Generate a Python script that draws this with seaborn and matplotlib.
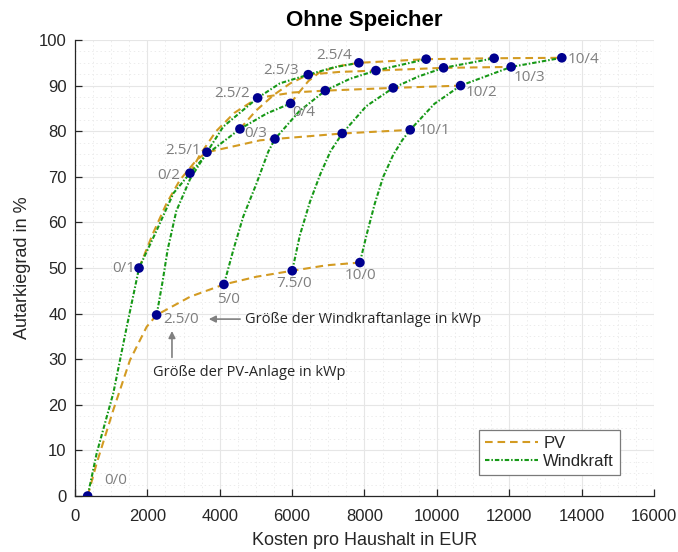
import pandas as pd
import seaborn as sns
import matplotlib.pyplot as plt
from matplotlib.lines import Line2D
from matplotlib.ticker import MultipleLocator

# Anlagengrößen in kWp
pv_sizes = ["0", "2.5", "5", "7.5", "10"]
wind_sizes = ["0", "1", "2", "3", "4"]

# Kosten pro Haushalt (EUR) und Autarkiegrad (%), Zeilen = PV, Spalten = Wind
kosten = [
    [350, 1770, 3177, 4558, 5958],
    [2256, 3646, 5047, 6446, 7845],
    [4116, 5525, 6915, 8315, 9705],
    [6003, 7384, 8793, 10185, 11583],
    [7873, 9263, 10655, 12052, 13453],
]
autarkie = [
    [0.0, 50.0, 70.8, 80.5, 86.1],
    [39.7, 75.4, 87.3, 92.4, 95.0],
    [46.4, 78.3, 88.9, 93.3, 95.8],
    [49.4, 79.5, 89.5, 93.9, 96.0],
    [51.2, 80.3, 90.0, 94.1, 96.1],
]

# Kurvenverläufe Windkraft (feste PV-Größe)
wind_x = [
    [350, 600, 1060, 1430, 1770, 2260, 2720, 3180, 3650, 4560, 5300, 5960],
    [2256, 2420, 2560, 2800, 3180, 3646, 4097, 5047, 5663, 6446, 7150, 7845],
    [4116, 4373, 4650, 5019, 5340, 5525, 6200, 6915, 7600, 8315, 9705],
    [6003, 6215, 6492, 6780, 7060, 7384, 8050, 8793, 9490, 10185, 11583],
    [7873, 8055, 8287, 8517, 8793, 9040, 9263, 9930, 10655, 12052, 13453],
]
wind_y = [
    [0.0, 9.4, 22.6, 37.1, 50.0, 58.3, 66.4, 70.8, 75.0, 80.5, 83.9, 86.1],
    [39.7, 47.0, 54.0, 62.5, 69.5, 75.4, 81.0, 87.3, 90.5, 92.4, 94.0, 95.0],
    [46.4, 53.9, 61.3, 68.6, 75.5, 78.3, 84.4, 88.9, 91.5, 93.3, 95.8],
    [49.4, 57.2, 64.5, 70.6, 75.6, 79.5, 85.5, 89.5, 92.0, 93.9, 96.0],
    [51.2, 57.2, 64.2, 70.0, 74.8, 78.0, 80.3, 86.0, 90.0, 94.1, 96.1],
]

# Kurvenverläufe PV (feste Windkraft-Größe)
pv_x = [
    [350, 600, 1060, 1520, 1980, 2256, 3180, 4116, 5020, 6003, 6950, 7873],
    [1770, 2150, 2532, 2900, 3360, 3646, 4560, 5110, 5525, 7384, 9263],
    [3177, 3450, 3900, 4400, 5047, 5295, 6030, 6915, 8793, 10655],
    [4558, 5000, 5500, 5950, 6446, 7300, 8315, 10185, 12052],
    [5958, 6200, 6450, 6770, 7300, 7845, 9705, 11583, 13453],
]
pv_y = [
    [0.0, 7.2, 18.9, 29.8, 37.1, 39.7, 43.7, 46.4, 48.1, 49.4, 50.6, 51.2],
    [50.0, 57.5, 64.2, 69.3, 73.7, 75.4, 77.0, 78.0, 78.3, 79.5, 80.3],
    [70.8, 74.8, 80.0, 84.0, 87.3, 87.6, 88.5, 88.9, 89.5, 90.0],
    [80.5, 84.5, 88.0, 90.5, 92.4, 93.0, 93.3, 93.9, 94.1],
    [86.1, 88.6, 91.0, 93.0, 94.3, 95.0, 95.8, 96.0, 96.1],
]

# beschriftete Punkte: (PV-Index, Wind-Index, Ausrichtung, dx, dy in pt)
point_labels = [
    (0, 0, "left", 12, 11.5), (0, 1, "right", -3, 0), (0, 2, "right", -7, -1.5),
    (0, 3, "left", 3, -3), (0, 4, "left", 1.5, -6.5),
    (1, 0, "left", 4.5, -3), (1, 1, "right", -4, 1.5), (1, 2, "right", -5.5, 3),
    (1, 3, "right", -6.5, 3), (1, 4, "right", -5, 5),
    (2, 0, "center", 3, -11), (3, 0, "center", 1, -9), (4, 0, "center", 0.5, -9),
    (4, 1, "left", 6, -0.5), (4, 2, "left", 3.5, -5), (4, 3, "left", 2, -7.5),
    (4, 4, "left", 4.5, -1),
]

sns.set_theme(style="white")
plt.rcParams["font.family"] = ["Liberation Sans", "DejaVu Sans"]
plt.rcParams["lines.scale_dashes"] = False

c_pv = "#D39B22"
c_wind = "#169816"
c_dot = "#00008F"
c_axis = "#262626"
ls_pv = (0, (5.5, 3.5))
ls_wind = (0, (3.2, 1.4, 1.1, 1.4))

fig = plt.figure(figsize=(6.78, 5.52), dpi=100)
ax = fig.add_axes([0.1106, 0.1014, 0.8540, 0.8261])

for xs, ys in zip(pv_x, pv_y):
    sns.lineplot(x=xs, y=ys, sort=False, estimator=None, color=c_pv,
                 linestyle=ls_pv, lw=1.5, ax=ax, legend=False, zorder=3)
for xs, ys in zip(wind_x, wind_y):
    sns.lineplot(x=xs, y=ys, sort=False, estimator=None, color=c_wind,
                 linestyle=ls_wind, lw=1.5, ax=ax, legend=False, zorder=3)

rows = []
for i, pv in enumerate(pv_sizes):
    for j, w in enumerate(wind_sizes):
        rows.append({"pv": pv, "wind": w, "kosten": kosten[i][j], "autarkie": autarkie[i][j]})
df = pd.DataFrame(rows)
sns.scatterplot(data=df, x="kosten", y="autarkie", color=c_dot, s=48,
                edgecolor="none", ax=ax, legend=False, zorder=5)

for i, j, ha, dx, dy in point_labels:
    ax.annotate(f"{pv_sizes[i]}/{wind_sizes[j]}", (kosten[i][j], autarkie[i][j]),
                xytext=(dx, dy), textcoords="offset points", ha=ha, va="center",
                fontsize=11, color="#7f7f7f", family="Open Sans", zorder=6)

# Erklärungspfeile
ax.annotate("", xy=(3620, 38.8), xytext=(4640, 38.8),
            arrowprops=dict(arrowstyle="-|>", color="#808080", lw=1.2, mutation_scale=10))
ax.text(4700, 38.8, "Größe der Windkraftanlage in kWp", ha="left", va="center",
        fontsize=10.5, color=c_axis, family="Open Sans")
ax.annotate("", xy=(2680, 36.8), xytext=(2680, 29.8),
            arrowprops=dict(arrowstyle="-|>", color="#808080", lw=1.2, mutation_scale=10))
ax.text(2155, 27.0, "Größe der PV-Anlage in kWp", ha="left", va="center",
        fontsize=10.5, color=c_axis, family="Open Sans")

ax.set_xlim(0, 16000)
ax.set_ylim(0, 100)
ax.xaxis.set_major_locator(MultipleLocator(2000))
ax.xaxis.set_minor_locator(MultipleLocator(500))
ax.yaxis.set_major_locator(MultipleLocator(10))
ax.yaxis.set_minor_locator(MultipleLocator(2.5))
ax.grid(which="major", color="#e6e6e6", lw=0.8)
ax.grid(which="minor", color="#e9e9e9", lw=0.6, linestyle=(0, (1, 2)))
ax.set_axisbelow(True)

for side in ["top", "right"]:
    ax.spines[side].set_visible(False)
for side in ["left", "bottom"]:
    ax.spines[side].set_color(c_axis)
    ax.spines[side].set_linewidth(0.9)
ax.tick_params(which="major", direction="in", length=5, width=0.9, colors=c_axis,
               labelsize=12, left=True, bottom=True)
ax.tick_params(axis="x", pad=9)
ax.tick_params(axis="y", pad=6)
ax.tick_params(which="minor", left=False, bottom=False)

ax.set_xlabel("Kosten pro Haushalt in EUR", fontsize=13, color=c_axis, labelpad=6)
ax.set_ylabel("Autarkiegrad in %", fontsize=13, color=c_axis, labelpad=6)
ax.set_title("Ohne Speicher", fontsize=16, fontweight="bold", color="black", pad=10)

handles = [Line2D([], [], color=c_pv, linestyle=ls_pv, lw=1.5),
           Line2D([], [], color=c_wind, linestyle=ls_wind, lw=1.5)]
leg = ax.legend(handles, ["PV", "Windkraft"], loc="lower right",
                bbox_to_anchor=(0.941, 0.046), fontsize=12, frameon=True,
                fancybox=False, framealpha=1, edgecolor="#7a7a7a",
                handlelength=3.2, handletextpad=0.3, borderpad=0.35,
                labelspacing=0.2, borderaxespad=0)
leg.get_frame().set_linewidth(0.9)

fig.savefig("out.png", dpi=100)
